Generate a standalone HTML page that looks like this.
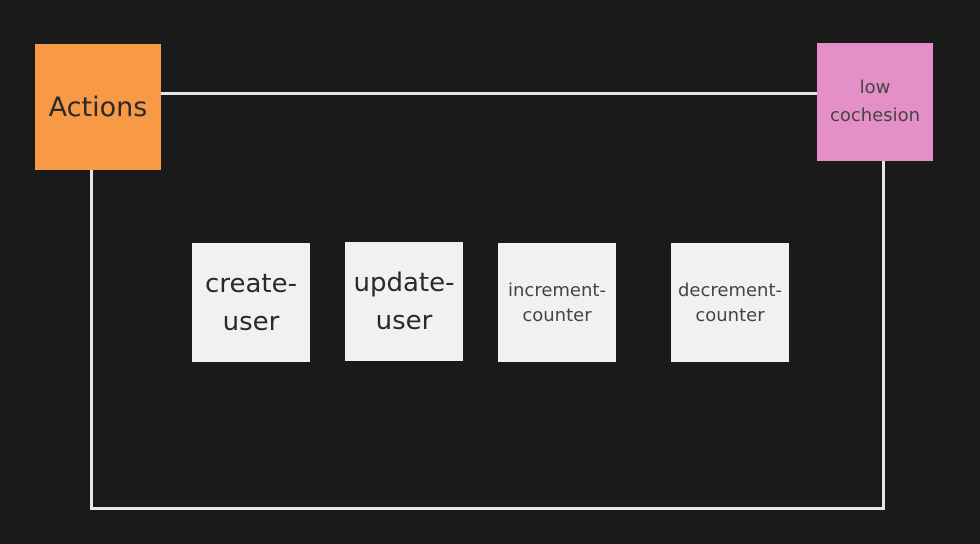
<!DOCTYPE html>
<html><head><style>
body{margin:0;width:980px;height:544px;background:#1a1a1a;position:relative;overflow:hidden;font-family:"DejaVu Sans","Liberation Sans",sans-serif}
.l{position:absolute;background:#e6e6e6}
.b{position:absolute;display:flex;align-items:center;justify-content:center;text-align:center;color:#2a2a2a}
.w{background:#f1f1f1;width:118px;height:119px}
</style></head><body>
<div class="l" style="left:160px;top:92px;width:658px;height:3px"></div>
<div class="l" style="left:90px;top:168px;width:3px;height:342px"></div>
<div class="l" style="left:90px;top:507px;width:795px;height:3px"></div>
<div class="l" style="left:882px;top:160px;width:3px;height:350px"></div>
<div class="b" style="left:35px;top:44px;width:126px;height:126px;background:#f89a45;font-size:27px">Actions</div>
<div class="b" style="left:817px;top:43px;width:116px;height:118px;background:#e48fc6;font-size:18px;line-height:28px;color:#444">low<br>cochesion</div>
<div class="b w" style="left:192px;top:243px;font-size:26px;line-height:38px">create-<br>user</div>
<div class="b w" style="left:345px;top:242px;font-size:26px;line-height:38px">update-<br>user</div>
<div class="b w" style="left:498px;top:243px;font-size:18px;line-height:25px;color:#444">increment-<br>counter</div>
<div class="b w" style="left:671px;top:243px;font-size:18px;line-height:25px;color:#444">decrement-<br>counter</div>
</body></html>
